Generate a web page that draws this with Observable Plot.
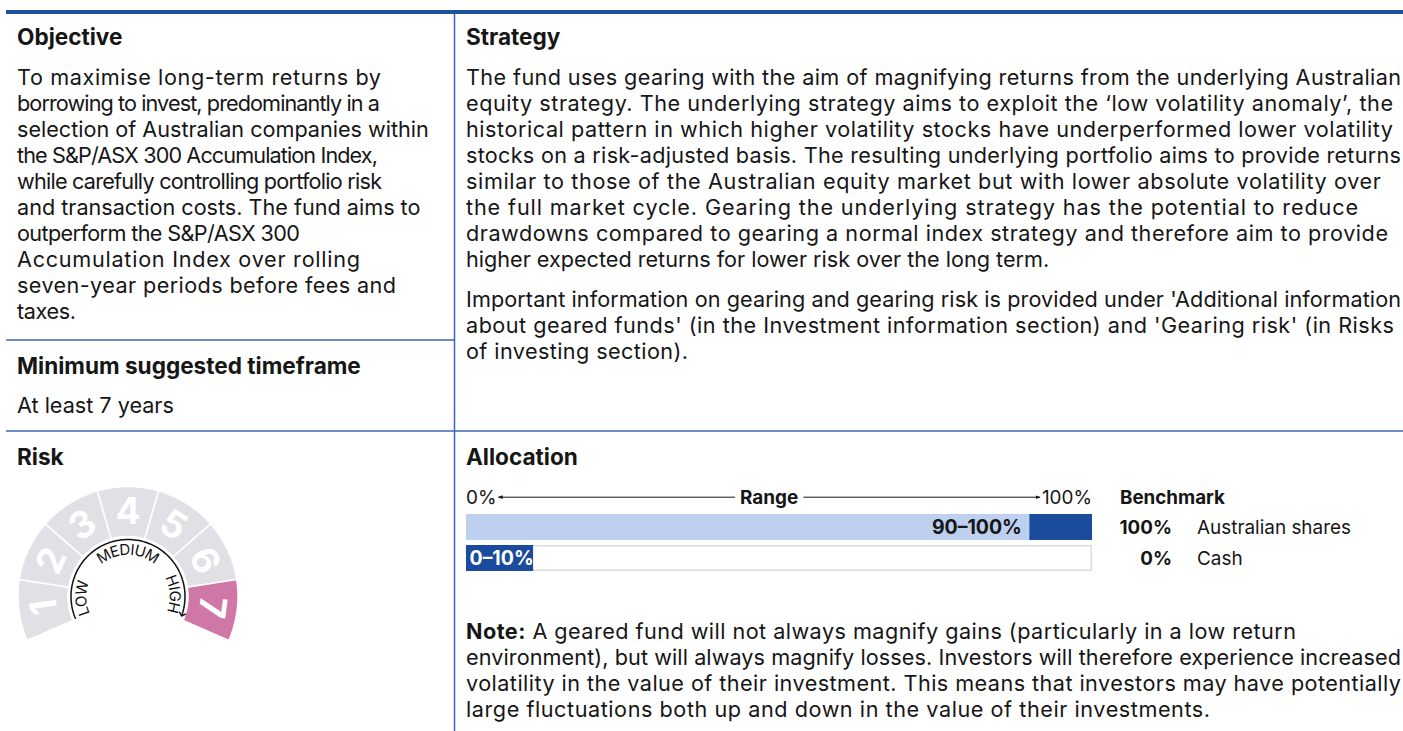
<!DOCTYPE html>
<html>
<head>
<meta charset="utf-8">
<script src="https://cdn.jsdelivr.net/npm/d3@7"></script>
<script src="https://cdn.jsdelivr.net/npm/@observablehq/plot@0.6"></script>
<style>
  html, body { margin: 0; padding: 0; background: #fff; }
  #page { position: relative; width: 1403px; height: 731px; overflow: hidden; background: #fff; }
  .abs { position: absolute; }
</style>
</head>
<body>
<div id="page"></div>
<script>
// ---------------- DATA ----------------
const objectiveLines = [
  "To maximise long-term returns by",
  "borrowing to invest, predominantly in a",
  "selection of Australian companies within",
  "the S&P/ASX 300 Accumulation Index,",
  "while carefully controlling portfolio risk",
  "and transaction costs. The fund aims to",
  "outperform the S&P/ASX 300",
  "Accumulation Index over rolling",
  "seven-year periods before fees and",
  "taxes."
];
const strategyLines = [
  "The fund uses gearing with the aim of magnifying returns from the underlying Australian",
  "equity strategy. The underlying strategy aims to exploit the \u2018low volatility anomaly\u2019, the",
  "historical pattern in which higher volatility stocks have underperformed lower volatility",
  "stocks on a risk-adjusted basis. The resulting underlying portfolio aims to provide returns",
  "similar to those of the Australian equity market but with lower absolute volatility over",
  "the full market cycle. Gearing the underlying strategy has the potential to reduce",
  "drawdowns compared to gearing a normal index strategy and therefore aim to provide",
  "higher expected returns for lower risk over the long term."
];
const importantLines = [
  "Important information on gearing and gearing risk is provided under 'Additional information",
  "about geared funds' (in the Investment information section) and 'Gearing risk' (in Risks",
  "of investing section)."
];
const noteLead = "Note:";
const noteLines = [
  " A geared fund will not always magnify gains (particularly in a low return",
  "environment), but will always magnify losses. Investors will therefore experience increased",
  "volatility in the value of their investment. This means that investors may have potentially",
  "large fluctuations both up and down in the value of their investments."
];
const timeframe = "At least 7 years";

const riskLevels = [1, 2, 3, 4, 5, 6, 7];
const currentRisk = 7;
const riskBands = ["LOW", "MEDIUM", "HIGH"];

const assets = ["Australian shares", "Cash"];
const rangeMin = [90, 0];
const rangeMax = [100, 10];
const benchmark = [100, 0];

// ---------------- LAYOUT / STYLE ----------------
const FAMILY = 'Inter, "Noto Sans", sans-serif';
const INK = "#161616";
const DARK_BLUE = "#1a4b9c";
const LIGHT_BLUE = "#bdd0f0";
const PINK = "#cf78a8";
const GREY = "#e1e1e5";
const RULE = "#3b66b2";

const objEnds = [381, 380, 385, 378, 382, 383, 300, 360, 396, 76];
const stratEnds = [1401, 1393, 1393, 1401, 1381, 1358, 1388, 1297];
const impEnds = [1401, 1394, 688];
const noteEnds = [1296, 1401, 1401, 1210];

const ctx = document.createElement("canvas").getContext("2d");
function tw(text, size, weight) {
  ctx.font = `${weight} ${size}px ${FAMILY}`;
  return ctx.measureText(text).width;
}
function fit(text, target, weight) { return 100 * target / tw(text, 100, weight); }

const bodyFs = fit(strategyLines[0] + objectiveLines[1], (1401 - 466) + (380 - 17), 400);
const headFs = fit("Minimum suggested timeframe", 344, 700);
const smallFs = fit("Australian shares", 154, 400);
const smallBoldFs = fit("Benchmark", 105, 700);
const labelFs = fit("90\u201310" + "0%", 90, 700);
const page = d3.select("#page");

// overlay svg for rules + text
const svg = page.append("svg").attr("class", "abs")
  .attr("width", 1403).attr("height", 731)
  .style("left", "0px").style("top", "0px");

const defs = svg.append("defs");
defs.append("marker").attr("id", "tip").attr("viewBox", "0 0 6 6")
  .attr("refX", 5).attr("refY", 3).attr("markerWidth", 5).attr("markerHeight", 5)
  .attr("orient", "auto-start-reverse").attr("markerUnits", "userSpaceOnUse")
  .append("path").attr("d", "M0,0.8 L6,3 L0,5.2 Z").attr("fill", INK);

svg.append("rect").attr("x", 6).attr("y", 10).attr("width", 1397).attr("height", 4).attr("fill", "#1f51a0");
svg.append("line").attr("x1", 454.5).attr("x2", 454.5).attr("y1", 14).attr("y2", 731).attr("stroke", RULE).attr("stroke-width", 1.5);
svg.append("line").attr("x1", 6).attr("x2", 454.5).attr("y1", 340).attr("y2", 340).attr("stroke", RULE).attr("stroke-width", 1.5);
svg.append("line").attr("x1", 6).attr("x2", 1403).attr("y1", 431).attr("y2", 431).attr("stroke", RULE).attr("stroke-width", 1.5);

function addText(x, y, segs, opt = {}) {
  const size = opt.size || bodyFs;
  const t = svg.append("text").attr("x", x).attr("y", y)
    .attr("font-family", FAMILY).attr("font-size", size)
    .attr("fill", opt.fill || INK)
    .attr("text-anchor", opt.anchor || "start");
  if (typeof segs === "string") segs = [[segs, opt.weight || 400]];
  segs.forEach(([s, w]) => t.append("tspan").attr("font-weight", w).text(s));
  if (opt.target) {
    const len = t.node().getComputedTextLength();
    if (Math.abs(len - opt.target) / opt.target < 0.1) {
      t.attr("textLength", opt.target).attr("lengthAdjust", "spacing");
    }
  }
  return t;
}

// headings
addText(17, 45, "Objective", {size: headFs, weight: 700});
addText(466, 45, "Strategy", {size: headFs, weight: 700});
addText(17, 374, "Minimum suggested timeframe", {size: headFs, weight: 700});
addText(17, 413, timeframe);
addText(17, 465, "Risk", {size: headFs, weight: 700});
addText(466, 465, "Allocation", {size: headFs, weight: 700});

objectiveLines.forEach((s, i) => addText(17, 85 + i * 26, s, {target: objEnds[i] - 17}));
strategyLines.forEach((s, i) => addText(466, 85 + i * 26, s, {target: stratEnds[i] - 466}));
importantLines.forEach((s, i) => addText(466, 307 + i * 26, s, {target: impEnds[i] - 466}));
noteLines.forEach((s, i) => {
  const segs = i === 0 ? [[noteLead, 700], [s, 400]] : [[s, 400]];
  addText(466, 639 + i * 26, segs, {target: noteEnds[i] - 466});
});

// ---------------- RISK GAUGE (Plot) ----------------
const SPAN = 113.5, R_OUT = 110, R_IN = 60, R_ARC = 57, R_TXT = 46.5;
const step = 2 * SPAN / riskLevels.length;
const rad = a => a * Math.PI / 180;
const pol = (r, a) => ({x: r * Math.sin(rad(a)), y: r * Math.cos(rad(a))});
const segPts = [];
riskLevels.forEach((lv, i) => {
  const a0 = -SPAN + i * step, a1 = a0 + step, N = 24;
  for (let k = 0; k <= N; k++) segPts.push({level: lv, ...pol(R_OUT, a0 + (a1 - a0) * k / N)});
  for (let k = N; k >= 0; k--) segPts.push({level: lv, ...pol(R_IN, a0 + (a1 - a0) * k / N)});
});
const digitPts = riskLevels.map((lv, i) => {
  const a = -SPAN + (i + 0.5) * step;
  return {level: lv, a, ...pol(84, a)};
});
const arcPts = d3.range(0, 101).map(k => pol(R_ARC, -SPAN + 1 + (SPAN + 108.5 - 1) * k / 100));

const bandCenters = [-92, 0, 87];
const letterFs = 15;
const letters = [];
riskBands.forEach((word, wi) => {
  const ws = [...word].map(ch => tw(ch, letterFs, 400) + 0.3);
  const total = d3.sum(ws);
  let acc = 0;
  [...word].forEach((ch, k) => {
    const a = bandCenters[wi] + ((acc + ws[k] / 2 - total / 2) / R_TXT) * 180 / Math.PI;
    acc += ws[k];
    letters.push({ch, a, ...pol(R_TXT, a)});
  });
});

const gauge = Plot.plot({
  width: 260, height: 190,
  marginTop: 0, marginBottom: 0, marginLeft: 0, marginRight: 0,
  style: {background: "transparent", overflow: "visible"},
  x: {domain: [-127.5, 132.5], axis: null},
  y: {domain: [-64, 126], axis: null},
  marks: [
    Plot.line(segPts, {x: "x", y: "y", z: "level", curve: "linear-closed",
      fill: d => d.level === currentRisk ? PINK : GREY, stroke: "white", strokeWidth: 1.5}),
    Plot.text(digitPts, {x: "x", y: "y", text: d => String(d.level), rotate: "a",
      fontSize: 37, fontWeight: 700, fill: "white", fontFamily: FAMILY}),
    Plot.line(arcPts, {x: "x", y: "y", stroke: "#111", strokeWidth: 1.5, markerEnd: "arrow"}),
    Plot.text(letters, {x: "x", y: "y", text: "ch", rotate: "a", fontSize: letterFs,
      fill: "#111", fontFamily: FAMILY})
  ]
});
page.append("div").attr("class", "abs").style("left", "0px").style("top", "470px").node().appendChild(gauge);

// ---------------- ALLOCATION (Plot) ----------------
const alloc = assets.map((a, i) => ({asset: a, min: rangeMin[i], max: rangeMax[i], bench: benchmark[i]}));
const rangeLabel = d => `${d.min}\u2013${d.max}%`;
const ALLOC_LEFT = 466, ALLOC_TOP = 510, ALLOC_W = 626;
const allocPlot = Plot.plot({
  width: ALLOC_W, height: 66,
  marginTop: 3, marginBottom: 5, marginLeft: 0, marginRight: 0,
  style: {background: "transparent", overflow: "visible"},
  x: {domain: [0, 100], axis: null},
  y: {domain: assets, axis: null, paddingInner: 0.17, paddingOuter: 0},
  marks: [
    Plot.barX(alloc, {x1: () => 0, x2: () => 100, y: "asset", fill: "white", stroke: "#dcdcdc", strokeWidth: 1.5, inset: 0.75}),
    Plot.barX(alloc, {x1: () => 0, x2: "bench", y: "asset", fill: LIGHT_BLUE}),
    Plot.barX(alloc.filter(d => d.min > 0), {x1: "min", x2: "max", y: "asset", fill: DARK_BLUE}),
    Plot.barX(alloc.filter(d => d.min === 0), {x1: "min", x2: "max", y: "asset", fill: DARK_BLUE, insetRight: -4.5}),
    Plot.text(alloc.filter(d => d.min > 0), {x: "min", y: "asset", text: rangeLabel, textAnchor: "end", dx: -8,
      fontSize: labelFs, fontWeight: 700, fill: INK, fontFamily: FAMILY}),
    Plot.text(alloc.filter(d => d.min === 0), {x: "min", y: "asset", text: rangeLabel, textAnchor: "start", dx: 3,
      fontSize: labelFs, fontWeight: 700, fill: "white", fontFamily: FAMILY})
  ]
});
page.append("div").attr("class", "abs").style("left", ALLOC_LEFT + "px").style("top", ALLOC_TOP + "px").node().appendChild(allocPlot);

const xs = allocPlot.scale("x"), ys = allocPlot.scale("y");
const px = v => ALLOC_LEFT + xs.apply(v);
const HEAD_Y = 504;
const lo = xs.domain[0], hi = xs.domain[1];
const t0 = addText(px(lo), HEAD_Y, `${lo}%`, {size: smallFs});
const t1 = addText(px(hi), HEAD_Y, `${hi}%`, {size: smallFs, anchor: "end"});
const w0 = t0.node().getComputedTextLength(), w1 = t1.node().getComputedTextLength();
const leftEnd = px(lo) + w0, rightStart = px(hi) - w1;
const tr = addText((leftEnd + rightStart) / 2, HEAD_Y, "Range", {size: smallFs, weight: 700, anchor: "middle"});
const wr = tr.node().getComputedTextLength();
const midY = HEAD_Y - smallFs * 0.36;
svg.append("line").attr("x1", (leftEnd + rightStart) / 2 - wr / 2 - 5).attr("x2", leftEnd + 2)
  .attr("y1", midY).attr("y2", midY).attr("stroke", INK).attr("stroke-width", 1).attr("marker-end", "url(#tip)");
svg.append("line").attr("x1", (leftEnd + rightStart) / 2 + wr / 2 + 5).attr("x2", rightStart - 2)
  .attr("y1", midY).attr("y2", midY).attr("stroke", INK).attr("stroke-width", 1).attr("marker-end", "url(#tip)");

// benchmark table
addText(1120, HEAD_Y, "Benchmark", {size: smallBoldFs, weight: 700});
alloc.forEach(d => {
  const yb = ALLOC_TOP + ys.apply(d.asset) + ys.bandwidth / 2 + smallFs * 0.36;
  addText(1172, yb, `${d.bench}%`, {size: smallBoldFs, weight: 700, anchor: "end"});
  addText(1197, yb, d.asset, {size: smallFs});
});
</script>
</body>
</html>
